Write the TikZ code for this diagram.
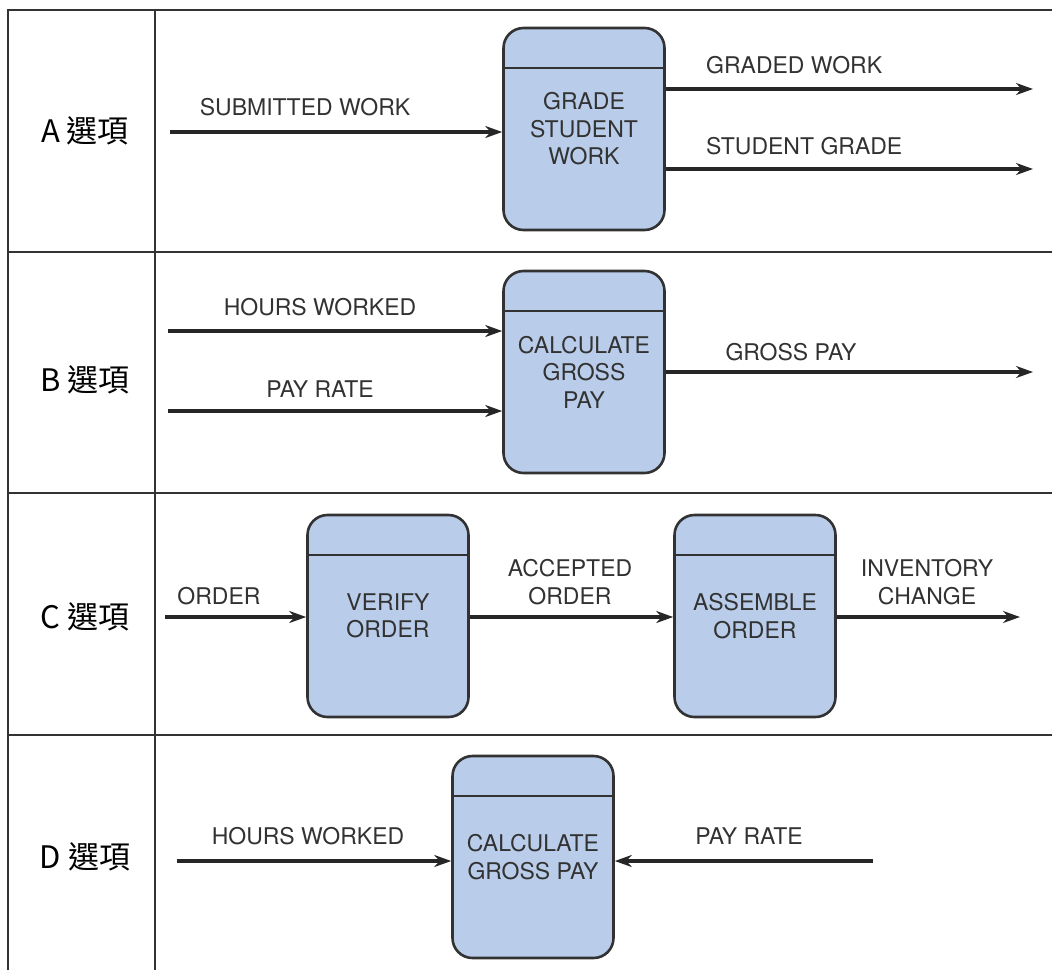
\documentclass[tikz,border=0pt]{standalone}
\usepackage{fontspec}
\setmainfont{TeX Gyre Heros}
\newfontfamily\cjk{Noto Sans CJK TC}
\usetikzlibrary{arrows.meta,positioning}
\definecolor{procfill}{RGB}{185,205,234}
\definecolor{inkgray}{RGB}{50,50,50}

\begin{document}
\begin{tikzpicture}[
  x=1pt, y=-1pt,
  >={Stealth[length=17pt,width=12pt]},
  every node/.style={font=\fontsize{23}{27.5}\selectfont, text=inkgray},
  process/.style={draw=inkgray, line width=2.6pt, rounded corners=20pt,
    fill=procfill, minimum width=161pt, minimum height=202pt,
    align=center, inner sep=0pt,
    path picture={\draw[inkgray, line width=2.6pt]
      ([yshift=-40pt]path picture bounding box.north west) --
      ([yshift=-40pt]path picture bounding box.north east);}},
  flow/.style={->, line width=3.2pt, draw=black!85},
  flowlabel/.style={align=center},
  optlabel/.style={font=\cjk\fontsize{31}{36}\selectfont, text=black},
  tableline/.style={line width=1.8pt, draw=black!80}
]
\useasboundingbox (0,0) rectangle (1052,970);

\draw[tableline] (8,970) -- (8,10) -- (1052,10);
\draw[tableline] (155,10) -- (155,970);
\draw[tableline] (8,252) -- (1052,252);
\draw[tableline] (8,493) -- (1052,493);
\draw[tableline] (8,735) -- (1052,735);

\node (opta) [optlabel] at (85,131) {A 選項};
\node (optb) [optlabel] at (85,380) {B 選項};
\node (optc) [optlabel] at (85,617) {C 選項};
\node (optd) [optlabel] at (85,857) {D 選項};

\node (grade)    [process] at (584,129)   {GRADE\\STUDENT\\WORK};
\node (grosspay) [process] at (584,372)   {CALCULATE\\GROSS\\PAY};
\node (verify)   [process] at (388,616)   {VERIFY\\ORDER};
\node (assemble) [process] at (755,616)   {ASSEMBLE\\ORDER};
\node (calcpay)  [process] at (533,857)   {CALCULATE\\GROSS PAY};

\coordinate (subin)    at (170,132);
\coordinate (gradedout) at (1033,89);
\coordinate (stgradeout) at (1033,169);
\coordinate (hoursin)  at (168,331);
\coordinate (ratein)   at (168,411);
\coordinate (grossout) at (1033,372);
\coordinate (orderin)  at (165,617);
\coordinate (invout)   at (1020,617);
\coordinate (hoursind) at (177,861);
\coordinate (rateind)  at (873,861);

\node (sublbl)     [flowlabel] at (305,107) {SUBMITTED WORK};
\node (gradedlbl)  [flowlabel, anchor=west, inner sep=0pt] at (706,65)  {GRADED WORK};
\node (stgradelbl) [flowlabel, anchor=west, inner sep=0pt] at (706,146) {STUDENT GRADE};
\node (hourslbl)   [flowlabel] at (320,307) {HOURS WORKED};
\node (ratelbl)    [flowlabel] at (320,389) {PAY RATE};
\node (grosslbl)   [flowlabel] at (791,352) {GROSS PAY};
\node (orderlbl)   [flowlabel] at (219,596) {ORDER};
\node (acclbl)     [flowlabel] at (570,582) {ACCEPTED\\ORDER};
\node (invlbl)     [flowlabel] at (927,582) {INVENTORY\\CHANGE};
\node (hourslbld)  [flowlabel] at (308,836) {HOURS WORKED};
\node (ratelbld)   [flowlabel] at (749,836) {PAY RATE};

\draw[flow] (subin)                  -- (subin -| grade.west);
\draw[flow] (grade.east |- gradedout) -- (gradedout);
\draw[flow] (grade.east |- stgradeout) -- (stgradeout);
\draw[flow] (hoursin)                -- (hoursin -| grosspay.west);
\draw[flow] (ratein)                 -- (ratein -| grosspay.west);
\draw[flow] (grosspay.east |- grossout) -- (grossout);
\draw[flow] (orderin)                -- (orderin -| verify.west);
\draw[flow] (verify.east |- orderin) -- (orderin -| assemble.west);
\draw[flow] (assemble.east |- invout) -- (invout);
\draw[flow] (hoursind)               -- (hoursind -| calcpay.west);
\draw[flow] (rateind)                -- (rateind -| calcpay.east);
\end{tikzpicture}
\end{document}
